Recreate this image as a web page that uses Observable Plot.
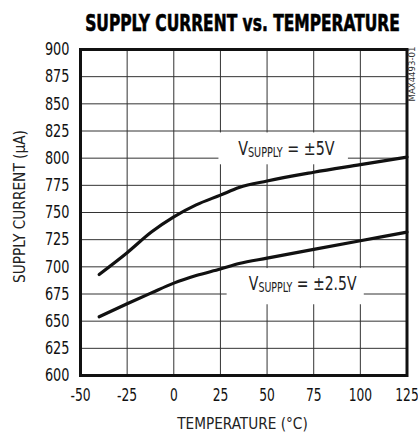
<!DOCTYPE html>
<html><head><meta charset="utf-8">
<script src="https://cdn.jsdelivr.net/npm/d3@7"></script>
<script src="https://cdn.jsdelivr.net/npm/@observablehq/plot@0.6"></script>
<style>
body{margin:0;background:#fff;}
#chart{width:418px;}
svg{display:block;overflow:visible;}
</style></head>
<body><div id="chart"></div>
<script>
const FONT = "'Liberation Sans Narrow','DejaVu Sans Condensed','Arial Narrow',sans-serif";
const title = "SUPPLY CURRENT vs. TEMPERATURE";
const xLabel = "TEMPERATURE (°C)";
const yLabel = "SUPPLY CURRENT (µA)";
const partCode = "MAX4493-01";

const temps = [-40, -25, -12, 0, 12, 25, 35, 50, 75, 100, 125];
const current5V = [693, 713, 732, 746, 757, 766, 773, 779, 787, 794, 801];
const current2p5V = [654, 666, 676, 685, 692, 698, 703, 708, 716, 724, 732];

const xTicks = [-50, -25, 0, 25, 50, 75, 100, 125];
const yTicks = [600, 625, 650, 675, 700, 725, 750, 775, 800, 825, 850, 875, 900];

const labelMain = ["V", "V"];
const labelSub = ["SUPPLY", "SUPPLY"];
const labelRest = [" = ±5V", " = ±2.5V"];
const labelX = [34.5, 40.2];
const labelY = [802.8, 678.9];
const boxX1 = [24.2, 28.6];
const boxX2 = [93.6, 102.1];
const boxY1 = [793.9, 665.1];
const boxY2 = [823.2, 698.4];

const rows = [
  ...temps.map((t, i) => ({t, i: current5V[i], s: "5V"})),
  ...temps.map((t, i) => ({t, i: current2p5V[i], s: "2.5V"}))
];
const boxes = boxX1.map((_, k) => ({x1: boxX1[k], x2: boxX2[k], y1: boxY1[k], y2: boxY2[k]}));
const labels = labelX.map((_, k) => ({x: labelX[k], y: labelY[k], text: labelMain[k] + labelSub[k] + labelRest[k]}));

const plot = Plot.plot({
  width: 418, height: 434,
  marginTop: 49, marginBottom: 59, marginLeft: 80, marginRight: 11.5,
  style: {fontFamily: FONT, fontSize: "18px", color: "#111", background: "white", overflow: "visible"},
  x: {domain: [-50, 125]},
  y: {domain: [600, 900]},
  marks: [
    Plot.gridX(xTicks, {stroke: "#333", strokeOpacity: 1, strokeWidth: 1}),
    Plot.gridY(yTicks, {stroke: "#333", strokeOpacity: 1, strokeWidth: 1}),
    Plot.rect(boxes, {x1: "x1", x2: "x2", y1: "y1", y2: "y2", fill: "white"}),
    Plot.line(rows, {x: "t", y: "i", z: "s", curve: "monotone-x", stroke: "#111", strokeWidth: 3.2}),
    Plot.text(labels, {x: "x", y: "y", text: "text", textAnchor: "start", lineAnchor: "bottom", fill: "#222"}),
    Plot.axisX(xTicks, {tickSize: 0, tickPadding: 13, label: null, tickFormat: d => String(d)}),
    Plot.axisY(yTicks, {tickSize: 0, tickPadding: 11, label: null, tickFormat: d => String(d)}),
    Plot.frame({stroke: "#111", strokeWidth: 3})
  ]
});
document.getElementById("chart").append(plot);

const svg = d3.select(plot);

// squeeze a text horizontally (in its own coordinates) to a target width
function condense(el, target, anchor) {
  const bb = el.getBBox();
  if (!bb.width) return;
  const s = target / bb.width;
  const ax = anchor === "start" ? bb.x : anchor === "end" ? bb.x + bb.width : bb.x + bb.width / 2;
  const existing = el.getAttribute("transform") || "";
  el.setAttribute("transform", `${existing} translate(${ax},0) scale(${s},1) translate(${-ax},0)`);
}

const labelWidths = [97, 108.4];
svg.selectAll("g[aria-label=text] text").each(function(_, k) {
  const t = d3.select(this);
  t.attr("dy", null).text(null);
  t.append("tspan").attr("font-size", 20).text(labelMain[k]);
  t.append("tspan").attr("font-size", 13.5).attr("dy", 2).text(labelSub[k]);
  t.append("tspan").attr("font-size", 20).attr("dy", -2).text(labelRest[k]);
  condense(this, labelWidths[k], "start");
});

function tickWidth(s, per) {
  let w = 0;
  for (const c of s) w += (c === "-" ? 4.5 : per);
  return w;
}
svg.selectAll("g[aria-label='x-axis tick label'] text").each(function() {
  condense(this, tickWidth(this.textContent, 7.8), "middle");
});
svg.selectAll("g[aria-label='y-axis tick label'] text").each(function() {
  condense(this, tickWidth(this.textContent, 8.2), "end");
});

const tt = svg.append("text").attr("x", 242.5).attr("y", 31.5).attr("text-anchor", "middle")
  .attr("font-family", FONT).attr("font-weight", "bold").attr("font-size", 23)
  .attr("fill", "#000").attr("stroke", "#000").attr("stroke-width", 0.6).text(title);
condense(tt.node(), 315, "middle");

const yl = svg.append("text").attr("transform", "translate(19.5,206.5) rotate(-90)")
  .attr("text-anchor", "middle").attr("dy", "0.35em").attr("font-size", 15)
  .attr("font-family", FONT).attr("fill", "#222").text(yLabel);
condense(yl.node(), 153, "middle");

const xl = svg.append("text").attr("x", 242.5).attr("y", 429.5)
  .attr("text-anchor", "middle").attr("font-size", 16)
  .attr("font-family", FONT).attr("fill", "#222").text(xLabel);
condense(xl.node(), 131.6, "middle");

const pc = svg.append("text").attr("transform", "translate(412,74) rotate(-90)")
  .attr("text-anchor", "middle").attr("dy", "0.35em").attr("font-size", 9)
  .attr("font-family", FONT).attr("fill", "#333").text(partCode);
condense(pc.node(), 55, "middle");
</script>
</body></html>
